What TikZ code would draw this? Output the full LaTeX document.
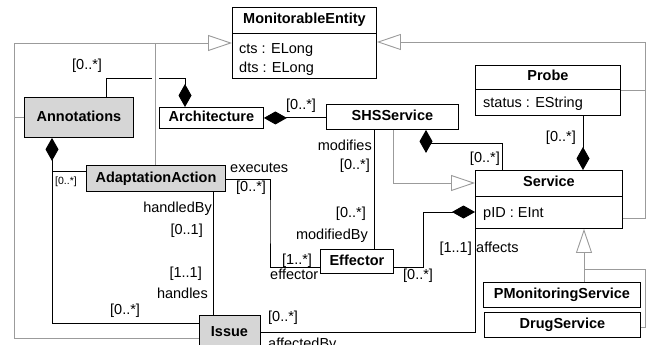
\documentclass[tikz,border=0pt]{standalone}
\usepackage{fontspec}
\setmainfont{Liberation Sans}
\usetikzlibrary{arrows.meta}
\definecolor{shade}{RGB}{214,214,214}
\definecolor{gline}{RGB}{155,155,155}
\tikzset{
  txt/.style={font=\fontsize{14.5}{17}\selectfont, inner sep=0pt},
  lbl/.style={txt, anchor=base west},
  lblr/.style={txt, anchor=base east},
  small/.style={font=\fontsize{10.5}{12}\selectfont, inner sep=0pt, anchor=base west},
  cls/.style={draw, line width=0.9pt, inner sep=0pt, anchor=north west, fill=white,
    font=\fontsize{14.5}{17}\selectfont\bfseries, text height=10.5pt, text depth=3pt},
  shaded/.style={cls, fill=shade},
  ttl/.style={font=\fontsize{14.5}{17}\selectfont\bfseries, inner sep=0pt, text height=10.5pt, text depth=3pt},
  sep/.style={line width=0.9pt},
  assoc/.style={draw=black, line width=0.9pt},
  gen/.style={draw=gline, line width=0.9pt},
  genarrow/.style={-{Triangle[open, length=24pt, width=16pt, fill=white]}},
  compS/.style={{Diamond[length=23pt, width=13pt]}-},
  compE/.style={-{Diamond[length=23pt, width=13pt]}},
}
\begin{document}
\begin{tikzpicture}[x=1pt, y=-1pt]
\useasboundingbox (0,0) rectangle (649,345);

\coordinate (gl) at (14,43);
\coordinate (gr) at (645,42);
\coordinate (gtip) at (584,269);
\coordinate (gd) at (645,269);

% ---------- class boxes ----------
\node[cls, minimum width=144pt, minimum height=71pt] (me) at (232,7) {};
\draw[sep] ([yshift=-26pt]me.north west) -- ([yshift=-26pt]me.north east);
\node[ttl] (meT) at ([yshift=-13pt]me.north) {MonitorableEntity};
\node[lbl] (meA1) at (239,54) {cts : ELong};
\node[lbl] (meA2) at (239,73) {dts : ELong};

\node[cls, minimum width=145pt, minimum height=50pt] (probe) at (475,65) {};
\draw[sep] ([yshift=-24pt]probe.north west) -- ([yshift=-24pt]probe.north east);
\node[ttl] (probeT) at ([yshift=-12pt]probe.north) {Probe};
\node[lbl] (probeA) at (483,108) {status : EString};

\node[cls, minimum width=147pt, minimum height=58pt] (service) at (475,170) {};
\draw[sep] ([yshift=-26pt]service.north west) -- ([yshift=-26pt]service.north east);
\node[ttl] (serviceT) at ([yshift=-13pt]service.north) {Service};
\node[lbl] (serviceA) at (483,217) {pID : EInt};

\node[cls, minimum width=132pt, minimum height=25pt] (shs) at (326,104) {SHSService};
\node[cls, minimum width=104pt, minimum height=21pt] (arch) at (159,107) {Architecture};
\node[shaded, minimum width=109pt, minimum height=40pt] (annot) at (24,97) {Annotations};
\node[shaded, minimum width=139pt, minimum height=26pt] (aa) at (86,165) {AdaptationAction};
\node[cls, minimum width=73pt, minimum height=24pt] (eff) at (320,249) {Effector};
\node[shaded, minimum width=61pt, minimum height=46pt] (issue) at (199,315) {};
\node[ttl] (issueT) at (229.5,333) {Issue};
\node[cls, minimum width=157pt, minimum height=25pt] (pms) at (483,282) {PMonitoringService};
\node[cls, minimum width=156pt, minimum height=25pt] (drug) at (484,312) {DrugService};

% ---------- generalizations ----------
\draw[gen, genarrow] (issue.west) -| (gl) -- (gl -| me.west);
\draw[gen] (annot.west) -- (annot.west -| gl);
\draw[gen] ([xshift=69pt]aa.north west) -- ([xshift=69pt]aa.north west |- gl);
\draw[gen, genarrow] ([yshift=10pt]service.south east) -| (gr) -- (gr -| me.east);
\draw[gen] ([yshift=-25pt]probe.north east) -- ([yshift=-25pt]probe.north east -| gr);
\draw[gen, genarrow] ([xshift=67pt]shs.south west) |- ([yshift=-13pt]service.north west);
\draw[gen, genarrow] (pms.north -| gtip) -- (gtip |- service.south);
\draw[gen] ([yshift=-15pt]drug.north east) -| (gd) -- (gtip);

% ---------- associations ----------
\coordinate (gapL) at (152,78);
\coordinate (gapR) at (159,78);
\draw[assoc] ([xshift=82pt]annot.north west) |- (gapL);
\draw[assoc, compE] (gapR) -| ([xshift=26pt]arch.north west);
\node[lbl] (l1) at (72,70) {[0..*]};

\draw[assoc, compS] (arch.east) -- (arch.east -| shs.west);
\node[lbl] (l2) at (286,110) {[0..*]};

\draw[assoc] ([xshift=48pt]shs.south west) -- ([xshift=48pt]shs.south west |- eff.north);
\node[lblr] (l3) at (372,150) {modifies};
\node[lblr] (l4) at (370,169) {[0..*]};
\node[lblr] (l5) at (366,218) {[0..*]};
\node[lblr] (l6) at (368,239) {modifiedBy};

\coordinate (c8) at (502,143);
\draw[assoc, compS] ([xshift=100pt]shs.south west) |- (c8) -- (c8 |- service.north);
\node[lblr] (l7) at (500,163) {[0..*]};

\draw[assoc, compE] ([xshift=108pt]probe.south west) -- ([xshift=108pt]probe.south west |- service.north);
\node[lblr] (l8) at (576,142) {[0..*]};

\coordinate (c10) at (423,212);
\draw[assoc, compE] ([yshift=6pt]eff.south east) -| (c10) -- (c10 -| service.west);
\node[lbl] (l9) at (403,279) {[0..*]};

\coordinate (c11) at (270,220);
\draw[assoc] ([yshift=-14pt]aa.north east) -| (c11) |- ([yshift=6pt]eff.south west);
\node[lbl] (l10) at (230,172) {executes};
\node[lbl] (l11) at (236,191) {[0..*]};
\node[lbl] (l12) at (282,264) {[1..*]};
\node[lbl] (l13) at (270,279) {effector};

\draw[assoc] ([xshift=127pt]aa.south west) -- ([xshift=127pt]aa.south west |- issue.north);
\node[lblr] (l14) at (212,212) {handledBy};
\node[lblr] (l15) at (203,234) {[0..1]};
\node[lblr] (l16) at (202,277) {[1..1]};
\node[lblr] (l17) at (208,298) {handles};

\coordinate (c13) at (52,171);
\draw[assoc, compS] ([xshift=28pt]annot.south west) |- ([yshift=-8pt]issue.north west);
\draw[assoc] (c13) -- (c13 -| aa.west);
\node[small] (l18) at (55,185) {[0..*]};
\node[lbl] (l19) at (110,314) {[0..*]};

\draw[assoc] ([yshift=-17pt]issue.north east) -| (service.south west);
\node[lbl] (l20) at (268,321) {[0..*]};
\node[lbl] (l21) at (268,348) {affectedBy};
\node[lblr] (l22) at (472,252) {[1..1]};
\node[lbl] (l23) at (476,252) {affects};
\end{tikzpicture}
\end{document}
